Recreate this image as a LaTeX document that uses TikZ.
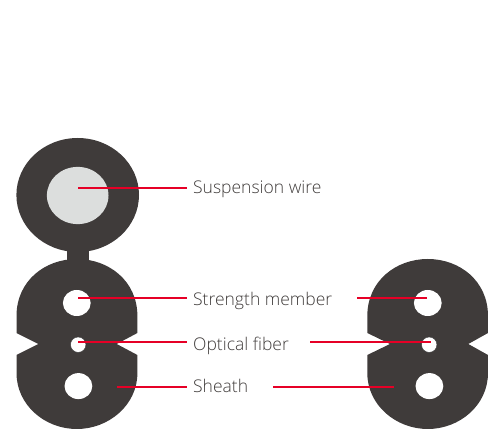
\documentclass[tikz,border=0pt]{standalone}
\usepackage{fontspec}
\setmainfont{Open Sans Light}
\definecolor{body}{HTML}{3F3B3A}
\definecolor{wire}{HTML}{DCDEDD}
\definecolor{lead}{HTML}{E60026}
\definecolor{txt}{HTML}{3F3B3A}
\tikzset{x=1pt,y=-1pt,
 sheath/.style={fill=body,draw=none},
 hole/.style={fill=white,draw=none},
 fiber/.style={fill=white,draw=black!80,line width=.4pt},
 leader/.style={draw=lead,line width=1.25pt},
 lbl/.style={anchor=base west,inner sep=0pt,text=txt,font=\fontsize{17.5}{21}\selectfont}}
\newcommand{\bodyshape}[5]{% left right cx leftnotch rightnotch
 \fill[sheath] (#1,333) -- (#1,316) .. controls (#1,281) and (#3-32,259) .. (#3,259)
   .. controls (#3+32,259) and (#2,281) .. (#2,316) -- (#2,333) -- (#2-#5,344) -- (#2,355)
   -- (#2,373) .. controls (#2,405) and (#3+32,429) .. (#3,429)
   .. controls (#3-32,429) and (#1,405) .. (#1,373) -- (#1,355) -- (#1+#4,344) -- cycle;
 \fill[hole] (#3,303) ellipse [x radius=13.9,y radius=13];
 \fill[hole] (#3+1.6,386.1) ellipse [x radius=13.9,y radius=13];
 \draw[fiber] (#3+1.4,344.7) circle [radius=7.7];
}
\begin{document}
\begin{tikzpicture}
\useasboundingbox (0,0) rectangle (488,430);
% suspension wire
\fill[sheath] (66.5,245) rectangle (88.5,265);
\fill[sheath] (77.7,195) ellipse [x radius=61.3,y radius=57];
\fill[wire] (77.7,195.5) ellipse [x radius=30.8,y radius=28.6];
\bodyshape{16.5}{137.4}{76.8}{21.8}{20.7}
\bodyshape{367.3}{488}{427.8}{22.7}{19.7}
% labels
\node[lbl] (susp) at (193,194) {Suspension wire};
\node[lbl] (stren) at (193,306) {Strength member};
\node[lbl] (opt) at (193,351) {Optical fiber};
\node[lbl] (sheath) at (193,393) {Sheath};
% anchors
\coordinate (a1) at (78,188); \coordinate (a1e) at (187,188);
\coordinate (a2) at (78,298); \coordinate (a2e) at (187,298);
\coordinate (a3) at (78,342); \coordinate (a3e) at (187,342);
\coordinate (a4) at (117,387); \coordinate (a4e) at (187,387);
\coordinate (b2) at (357,298); \coordinate (b2e) at (427,298);
\coordinate (b3) at (310,342); \coordinate (b3e) at (431,342);
\coordinate (b4) at (273,387); \coordinate (b4e) at (394,387);
\draw[leader] (a1) -- (a1e);
\draw[leader] (a2) -- (a2e);
\draw[leader] (a3) -- (a3e);
\draw[leader] (a4) -- (a4e);
\draw[leader] (b2) -- (b2e);
\draw[leader] (b3) -- (b3e);
\draw[leader] (b4) -- (b4e);
\end{tikzpicture}
\end{document}
